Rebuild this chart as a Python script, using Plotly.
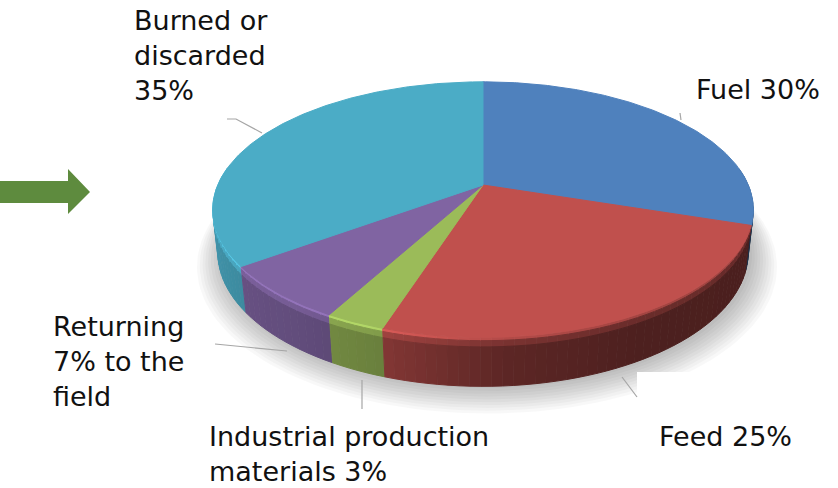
import numpy as np
import plotly.graph_objects as go

# Straw utilisation shares (percent), clockwise from 12 o'clock
categories = ["Fuel", "Feed", "Industrial production materials",
              "Returning to the field", "Burned or discarded"]
shares = [30, 25, 3, 7, 35]
label_texts = ["Fuel 30%", "Feed 25%", "Industrial production<br>materials 3%",
               "Returning<br>7% to the<br>field", "Burned or<br>discarded<br>35%"]

top_colors = [(79, 129, 189), (192, 80, 77), (155, 187, 89), (128, 100, 162), (75, 172, 198)]

# Perspective camera for the tilted disc
CX, CY, K = 483.0, 185.0, 1220.0
SA, CA, DIST = 0.464, 0.886, 4.6
THICK = 0.184


def proj(theta_deg, z, r=1.0):
    t = np.radians(theta_deg)
    X = r * np.sin(t)
    Yd = r * np.cos(t)
    u = z * CA + Yd * SA
    w = Yd * CA - z * SA + DIST
    return CX + K * X / w, CY - K * u / w


def rgb(c, f=1.0, a=None):
    v = [int(max(0, min(255, round(ch * f)))) for ch in c]
    if a is None:
        return f"rgb({v[0]},{v[1]},{v[2]})"
    return f"rgba({v[0]},{v[1]},{v[2]},{a})"


edges = np.concatenate([[0], np.cumsum(shares)]) / sum(shares) * 360.0

fig = go.Figure()

# soft drop shadow beneath the disc
ring = np.linspace(0, 360, 181)
for k in range(10):
    sx, sy = proj(ring, -THICK, 1.0 + 0.01 * k)
    fig.add_trace(go.Scatter(x=sx + 4, y=sy + 2 + 0.8 * k, mode="lines", fill="toself",
                             fillcolor="rgba(0,0,0,0.028)", line=dict(width=0),
                             hoverinfo="skip", showlegend=False))


# side wall strips, painted back to front
def wall_factor(th):
    return np.interp(th, [85, 150, 176, 198, 215, 240, 275],
                     [0.38, 0.40, 0.48, 0.68, 0.76, 0.82, 0.92])


strips = []
for i, (a0, a1) in enumerate(zip(edges[:-1], edges[1:])):
    lo, hi = max(a0, 82), min(a1, 278)
    if hi <= lo:
        continue
    n = max(1, int(np.ceil((hi - lo) / 2.0)))
    cuts = np.linspace(lo, hi, n + 1)
    for s0, s1 in zip(cuts[:-1], cuts[1:]):
        strips.append((np.cos(np.radians((s0 + s1) / 2)), i, s0, s1))
strips.sort(key=lambda s: -s[0])

for _, i, s0, s1 in strips:
    arc = np.linspace(s0, s1, 4)
    mid = (s0 + s1) / 2
    f = wall_factor(mid)
    layers = [(0.0, -0.012, min(1.15, f + 0.45)), (-0.012, -0.035, f + 0.15), (-0.035, -THICK, f)]
    for z0, z1, fac in layers:
        xt, yt = proj(arc, z0)
        xb, yb = proj(arc[::-1], z1)
        col = rgb(top_colors[i], fac)
        fig.add_trace(go.Scatter(x=np.concatenate([xt, xb]), y=np.concatenate([yt, yb]),
                                 mode="lines", fill="toself", fillcolor=col,
                                 line=dict(color=col, width=1),
                                 hoverinfo="skip", showlegend=False))

# top faces of the slices
for i, (a0, a1) in enumerate(zip(edges[:-1], edges[1:])):
    arc = np.linspace(a0, a1, max(8, int((a1 - a0) * 1.5)))
    ax, ay = proj(arc, 0.0)
    px = np.concatenate([[CX], ax, [CX]])
    py = np.concatenate([[CY], ay, [CY]])
    col = rgb(top_colors[i])
    fig.add_trace(go.Scatter(x=px, y=py, mode="lines", fill="toself", fillcolor=col,
                             line=dict(color=col, width=1), name=categories[i],
                             hoverinfo="name", showlegend=False))

# labels
label_pos = [(694, 89), (657, 436), (207, 454), (51, 361), (132, 55)]
for txt, (lx, ly) in zip(label_texts, label_pos):
    fig.add_annotation(x=lx, y=ly, xref="x", yref="y", text=txt, showarrow=False,
                       xanchor="left", yanchor="middle", align="left",
                       font=dict(family="DejaVu Sans, sans-serif", size=27, color="#111111"))

leader = dict(color="#A6A6A6", width=1.2)
shapes = [
    # white text box of the Feed label, sitting over the shadow
    dict(type="rect", x0=637, y0=372, x1=810, y1=470, fillcolor="white", line=dict(width=0),
         layer="above"),
    dict(type="path", path="M227,119 L236,119 L262,133", line=leader),
    dict(type="line", x0=680, y0=113, x1=681, y1=120, line=leader),
    dict(type="line", x0=215, y0=344, x1=287, y1=351, line=leader),
    dict(type="line", x0=362, y0=380, x1=362, y1=409, line=leader),
    dict(type="line", x0=622, y0=377, x1=637, y1=397, line=leader),
    # green arrow at the left edge
    dict(type="path", path="M0,181 L68,181 L68,169 L90,192 L68,214 L68,203 L0,203 Z",
         fillcolor="#5E8B3E", line=dict(width=0)),
]

fig.update_layout(
    width=838, height=488, margin=dict(l=0, r=0, t=0, b=0),
    paper_bgcolor="white", plot_bgcolor="white",
    xaxis=dict(range=[0, 838], visible=False, fixedrange=True),
    yaxis=dict(range=[488, 0], visible=False, fixedrange=True),
    shapes=shapes, showlegend=False,
)

fig.write_html("out.html")
